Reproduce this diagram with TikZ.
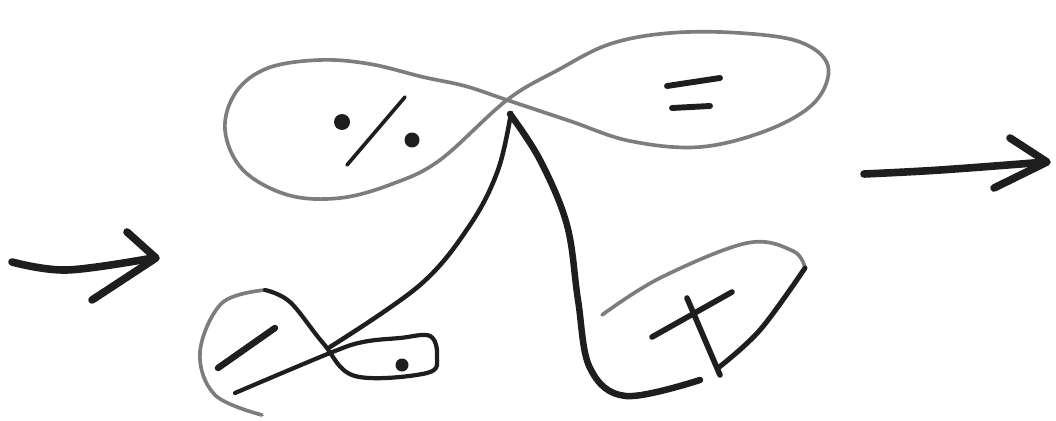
\documentclass[tikz,border=0pt]{standalone}
\usetikzlibrary{calc}
\definecolor{inkgray}{RGB}{125,125,125}
\definecolor{inkdark}{RGB}{30,30,30}
\tikzset{
  gloop/.style={draw=inkgray, line width=2.6pt, line cap=round, line join=round},
  pen/.style={draw=inkdark, line width=3.6pt, line cap=round, line join=round},
  thickpen/.style={pen, line width=4.6pt},
  arrowpen/.style={pen, line width=5.4pt},
  blob/.style={fill=inkdark}
}
\begin{document}
\begin{tikzpicture}[x=0.025cm, y=-0.025cm]
  \useasboundingbox (0,0) rectangle (1056,420);

  % figure-eight at the top
  \draw[gloop] plot[smooth cycle, tension=0.6] coordinates {
    (507,100) (465,86) (423,77) (370,64) (320,60) (268,68) (236,92)
    (225,130) (243,170) (288,195) (340,198) (392,184) (440,160)
    (507,100) (558,70) (610,44) (670,33) (740,33) (800,42) (828,66)
    (815,102) (768,130) (700,147) (630,141) (570,121)};

  % percent sign in the left lobe
  \fill[blob] (342,122) circle (8);
  \draw[pen, line width=2.6pt] (405,97) -- (347,165);
  \fill[blob] (412,140) circle (7.5);

  % equals sign in the right lobe
  \draw[pen, line width=4.2pt] (667,86) -- (720,78);
  \draw[pen, line width=4.2pt] (672,108) -- (710,106);

  % thin line from the crossing to the fish
  \draw[pen, line width=3.2pt] plot[smooth, tension=0.6] coordinates {
    (511,113) (498,170) (470,225) (420,285) (330,347)};

  % small fish at the bottom left
  \draw[gloop] plot[smooth, tension=0.6] coordinates {
    (262,415) (215,395) (200,352) (222,303) (265,290)};
  \draw[pen, line width=3pt] plot[smooth, tension=0.6] coordinates {
    (265,290) (290,302) (323,343) (355,376) (427,373) (437,356)
    (430,336) (400,338) (363,342) (330,353) (235,393)};
  \draw[pen, line width=4.6pt] (218,368) -- (275,328);
  \fill[blob] (402,365) circle (6.5);

  % thick curve down to the D shape
  \draw[thickpen] plot[smooth, tension=0.6] coordinates {
    (510,114) (540,160) (567,225) (578,300) (590,368) (626,396) (700,380)};

  % D shape with plus sign
  \draw[gloop] plot[smooth, tension=0.6] coordinates {
    (602,315) (660,278) (747,243) (793,251) (805,268)};
  \draw[pen] plot[smooth, tension=0.6] coordinates {
    (805,268) (760,330) (718,368)};
  \draw[pen, line width=4pt] (652,337) -- (732,292);
  \draw[pen, line width=4pt] (687,298) -- (720,375);

  % incoming arrow
  \draw[arrowpen] plot[smooth, tension=0.6] coordinates {
    (12,262) (67,270) (153,258)};
  \draw[arrowpen] (127,232) -- (156,258) -- (92,300);

  % outgoing arrow
  \draw[arrowpen] plot[smooth, tension=0.6] coordinates {
    (864,174) (940,170) (1046,162)};
  \draw[arrowpen] (1010,138) -- (1047,162) -- (994,188);
\end{tikzpicture}
\end{document}
